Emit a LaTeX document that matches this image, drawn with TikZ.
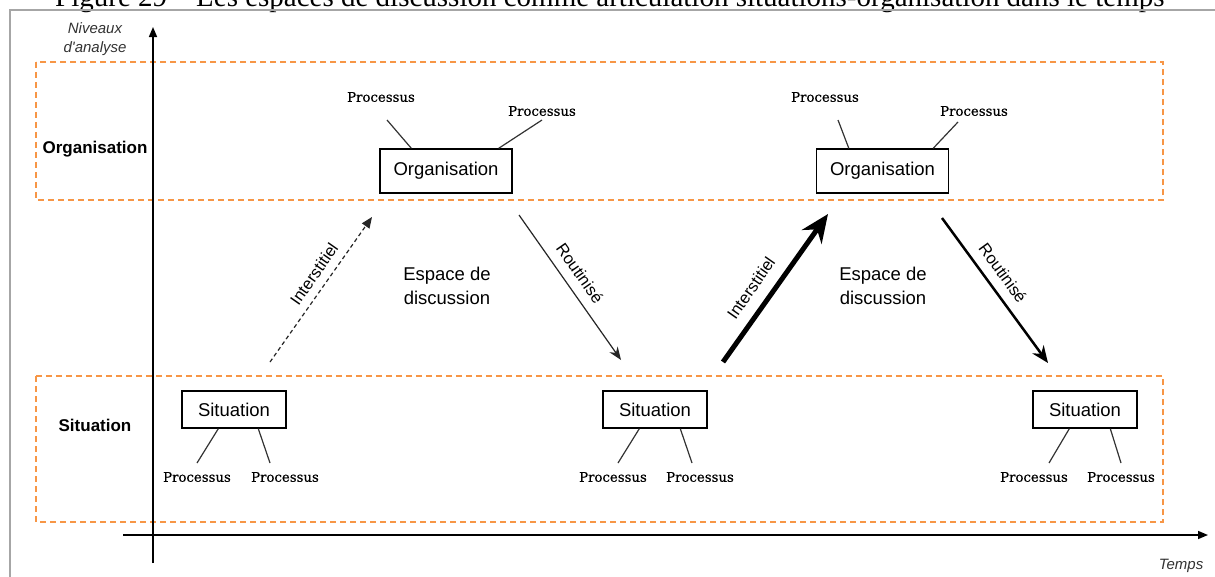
\documentclass[tikz,border=0pt]{standalone}
\usepackage{fontspec}
\setmainfont{Liberation Serif}
\newfontfamily\arialf{Liberation Sans}
\newfontfamily\procf[FakeBold=0.6]{DejaVu Serif}
\usetikzlibrary{arrows.meta,calc}
\definecolor{zoneorange}{RGB}{247,150,70}
\begin{document}
\begin{tikzpicture}[x=1pt,y=-1pt,
  box/.style={draw=black,line width=1.4pt,inner sep=0pt,font=\arialf\fontsize{18.5}{20}\selectfont},
  orgbox/.style={box,minimum width=132pt,minimum height=44pt},
  sitbox/.style={box,minimum width=104pt,minimum height=37pt},
  proc/.style={inner sep=0pt,font=\procf\fontsize{13.3}{15}\selectfont},
  lvl/.style={inner sep=0pt,anchor=base,font=\arialf\bfseries\fontsize{17}{19}\selectfont},
  axlab/.style={inner sep=0pt,anchor=base,font=\arialf\itshape\fontsize{15}{17.5}\selectfont,text=black!80},
  zone/.style={draw=zoneorange,line width=1.5pt,dash pattern=on 6pt off 4pt},
  link/.style={draw=black!80,line width=1.2pt},
  axis/.style={draw=black,line width=1.5pt,-{Triangle[length=10pt,width=8pt]}},
  arrlab/.style={inner sep=0pt,font=\arialf\fontsize{16.5}{18}\selectfont},
  espace/.style={inner sep=0pt,align=center,font=\arialf\fontsize{18.5}{23.5}\selectfont}
]
\useasboundingbox (0,0) rectangle (1215,576);
\fill[white] (0,0) rectangle (1215,576);
% title (cut at top)
\node[anchor=base west,inner sep=0pt,font=\fontsize{29}{30}\selectfont] (title) at (55,6)
  {Figure 29 – Les espaces de discussion comme articulation situations-organisation dans le temps};
% frame
\draw[black!35,line width=1.5pt] (10,590) -- (10,10) -- (1230,10);
% zones
\draw[zone] (36,62) rectangle (1163,200);
\draw[zone] (36,376) rectangle (1163,522);
% axes
\coordinate (yb) at (153,563);
\coordinate (yt) at (153,27);
\coordinate (xl) at (123,535);
\coordinate (xr) at (1208,535);
\draw[axis] (yb) -- (yt);
\draw[axis] (xl) -- (xr);
\node[axlab] (niv1) at (95,33) {Niveaux};
\node[axlab] (niv2) at (95,52) {d'analyse};
\node[axlab] (temps) at (1181,569) {Temps};
% level labels
\node[lvl] (lorg) at (95,153) {Organisation};
\node[lvl] (lsit) at (95,431) {Situation};
% boxes
\node[orgbox] (org1) at (446,171) {Organisation};
\node[orgbox] (org2) at (882.5,171) {Organisation};
\node[sitbox] (sit1) at (234,409.5) {Situation};
\node[sitbox] (sit2) at (655,409.5) {Situation};
\node[sitbox] (sit3) at (1085,409.5) {Situation};
% processus
\node[proc] (p1a) at (381,97) {Processus};
\node[proc] (p1b) at (542,111) {Processus};
\node[proc] (p2a) at (825,97) {Processus};
\node[proc] (p2b) at (974,111) {Processus};
\node[proc] (p3a) at (197,477) {Processus};
\node[proc] (p3b) at (285,477) {Processus};
\node[proc] (p4a) at (613,477) {Processus};
\node[proc] (p4b) at (700,477) {Processus};
\node[proc] (p5a) at (1034,477) {Processus};
\node[proc] (p5b) at (1121,477) {Processus};
% link ends near processus labels
\coordinate (c1a) at (387,120);
\coordinate (c1b) at (542,120);
\coordinate (c2a) at (838,120);
\coordinate (c2b) at (958,122);
\coordinate (c3a) at (197,463);
\coordinate (c3b) at (270,463);
\coordinate (c4a) at (618,463);
\coordinate (c4b) at (692,463);
\coordinate (c5a) at (1049,463);
\coordinate (c5b) at (1121,463);
\draw[link] (c1a) -- ($(org1.north west)+(32,0)$);
\draw[link] (c1b) -- ($(org1.north east)+(-14,0)$);
\draw[link] (c2a) -- ($(org2.north west)+(33,0)$);
\draw[link] (c2b) -- ($(org2.north east)+(-16,0)$);
\draw[link] (c3a) -- ($(sit1.south west)+(37,0)$);
\draw[link] (c3b) -- ($(sit1.south west)+(77,0)$);
\draw[link] (c4a) -- ($(sit2.south west)+(37,0)$);
\draw[link] (c4b) -- ($(sit2.south west)+(78,0)$);
\draw[link] (c5a) -- ($(sit3.south west)+(37,0)$);
\draw[link] (c5b) -- ($(sit3.south west)+(78,0)$);
% transition arrows
\coordinate (i1s) at (270,362);
\coordinate (i1e) at (372,217);
\coordinate (r1s) at (519,215);
\coordinate (r1e) at (621,360);
\coordinate (i2s) at (723,362);
\coordinate (i2e) at (828,214);
\coordinate (r2s) at (942,218);
\coordinate (r2e) at (1048,363);
\draw[black!85,line width=1.2pt,dash pattern=on 4pt off 3pt,-{Triangle[length=11pt,width=9pt]}] (i1s) -- (i1e);
\draw[black!85,line width=1.2pt,-{Stealth[length=13pt,width=10pt]}] (r1s) -- (r1e);
\draw[black,line width=5pt,-{Stealth[length=28pt,width=24pt]}] (i2s) -- (i2e);
\draw[black,line width=2.5pt,-{Stealth[length=17pt,width=14pt]}] (r2s) -- (r2e);
\node[arrlab,rotate=55] (li1) at (314,274) {Interstitiel};
\node[arrlab,rotate=-55] (lr1) at (580,273) {Routinisé};
\node[arrlab,rotate=55] (li2) at (751,288) {Interstitiel};
\node[arrlab,rotate=-54] (lr2) at (1003,273) {Routinisé};
\node[espace] (esp1) at (447,286) {Espace de\\discussion};
\node[espace] (esp2) at (883,286) {Espace de\\discussion};
\end{tikzpicture}
\end{document}
